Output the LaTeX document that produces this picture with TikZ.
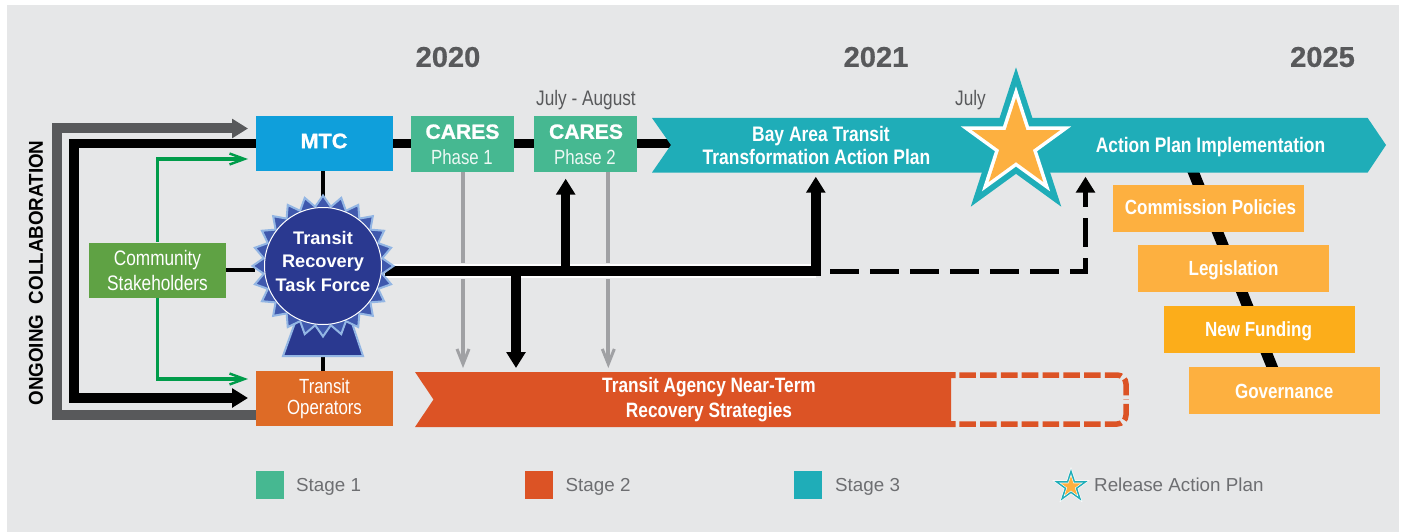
\documentclass[tikz,border=0pt]{standalone}
\usepackage{fontspec}
\usetikzlibrary{arrows.meta,shapes.geometric}
\setmainfont{Liberation Sans}
\newfontfamily\condreg[FakeStretch=0.82]{Liberation Sans}
\newfontfamily\condbold[UprightFont=* Bold,FakeStretch=0.83]{Liberation Sans}
\newfontfamily\plainbold[UprightFont=* Bold]{Liberation Sans}
\newfontfamily\yearbold[UprightFont=* Bold,FakeStretch=1.02,FakeBold=0.6]{Liberation Sans}
\newfontfamily\widebold[UprightFont=* Bold,FakeStretch=1.03,FakeBold=1.2]{Liberation Sans}
\newfontfamily\sidebold[UprightFont=* Bold,FakeStretch=0.94]{Liberation Sans}
\definecolor{bgc}{HTML}{E6E7E8}
\definecolor{yearc}{HTML}{58595B}
\definecolor{legc}{HTML}{6D6E71}
\definecolor{mtcc}{HTML}{0F9FDB}
\definecolor{caresc}{HTML}{46B891}
\definecolor{tealc}{HTML}{1FADB8}
\definecolor{commc}{HTML}{5FA244}
\definecolor{navyc}{HTML}{2A3990}
\definecolor{midblue}{HTML}{3F58AD}
\definecolor{liteblue}{HTML}{93B6E4}
\definecolor{opsc}{HTML}{DE6B26}
\definecolor{redc}{HTML}{DC5325}
\definecolor{starc}{HTML}{FDB040}
\definecolor{fundc}{HTML}{FCAD1A}
\definecolor{greenc}{HTML}{009C4A}
\definecolor{greyc}{HTML}{A0A1A4}
\definecolor{darkg}{HTML}{58595B}
\tikzset{
 box/.style={rectangle,inner sep=0pt,minimum width=#1},
 mainbox/.style={box=137pt,minimum height=55pt,text=white,align=center},
 caresbox/.style={box=103pt,minimum height=56pt,fill=caresc,text=white,align=center},
 goalbox/.style={box=191pt,minimum height=47pt,fill=starc,text=white},
 legbox/.style={box=28pt,minimum height=28pt},
 legtext/.style={text=legc,anchor=west,inner sep=0pt,font=\fontsize{18.8}{21}\selectfont},
 yeartext/.style={text=yearc,inner sep=0pt,font=\yearbold\fontsize{28.5}{30}\selectfont},
 datetext/.style={text=yearc,inner sep=0pt,font=\condreg\fontsize{21}{22}\selectfont},
 bandtext/.style={text=white,inner sep=0pt,align=center,font=\condbold\fontsize{21}{23.5}\selectfont},
 goaltext/.style={text=white,inner sep=0pt,font=\condbold\fontsize{20.5}{23}\selectfont},
 heavy/.style={line width=9.5pt,black},
 thick stem/.style={line width=9.5pt,-{Triangle[length=16pt,width=18.6pt]}},
 thin link/.style={line width=4pt,black},
 greenlink/.style={line width=3.2pt,greenc,-{Straight Barb[length=15pt,width=11pt,line width=2.4pt]}},
 greylink/.style={line width=4pt,greyc,-{Straight Barb[length=15pt,width=12pt,line width=3pt]}},
 starshape/.style={star,star points=5,star point ratio=2.618,inner sep=0pt,minimum size=#1},
 redash/.style={redc,line width=5.5pt,dash pattern=on 16.6pt off 4.2pt,rounded corners=9pt},
}
\begin{document}
\begin{tikzpicture}[x=1pt,y=-1pt]
\useasboundingbox (0,0) rectangle (1403,532);
\fill[bgc] (7,5) rectangle (1399,532);

% named ends
\coordinate (grayTip) at (248,128.5);
\coordinate (blackTip) at (248,398);
\coordinate (greenTop) at (248,159);
\coordinate (greenBot) at (248,379);
\coordinate (grayCorner) at (57,128.5);
\coordinate (blackCorner) at (74,143.5);
\coordinate (chevIn) at (680,143.5);
\coordinate (tfEnd) at (816,271);
\coordinate (dashStart) at (830,271);
\coordinate (dashCorner) at (1085.5,271);
\coordinate (dashTip) at (1085.5,176.7);

\node[mainbox,minimum height=55pt] (mtc) at (324.5,143.5) {};
\node[mainbox] (ops) at (324.5,398.5) {};
\node[mainbox] (comm) at (157.5,269.5) {};
\node[caresbox,draw=none] (c1) at (462.5,144) {};
\node[caresbox,draw=none] (c2) at (585.5,144) {};

% long arrows
\draw[line width=10pt,darkg,-{Triangle[length=16pt,width=18.6pt]}]
  (ops.west |- 0,415) -- (57,415) -- (grayCorner) -- (grayTip);
\draw[line width=9.5pt,black,-{Triangle[length=16pt,width=18.6pt]}]
  (mtc.west) -- (blackCorner) -- (74,398) -- (blackTip);
\draw[greenlink] (comm.north) |- (greenTop);
\draw[greenlink] (comm.south) |- (greenBot);
\draw[heavy] (mtc.east) -- (chevIn);

% grey arrows behind the task force bar
\draw[greylink] (c1.south -| 463,0) -- (463,368);
\draw[greylink] (c2.south -| 608.3,0) -- (608.3,368);

% diagonal behind goals
\coordinate (diagTop) at (1192.5,170);
\coordinate (diagBot) at (1273,369);
\draw[line width=11pt,black] (diagTop) -- (diagBot);

% bands
\fill[tealc] (652,118) -- (1367.7,118) -- (1386,145) -- (1367.7,172.5) -- (652,172.5) -- (671,145) -- cycle;
\fill[redc] (415,372) -- (955.5,372) -- (955.5,378) -- (951,378) -- (951,421) -- (955.5,421) -- (955.5,427) -- (415,427) -- (433.5,399.5) -- cycle;
\draw[redash] (959.3,375) -- (1126,375) -- (1126,399.5);
\draw[redash] (959.3,424) -- (1126,424) -- (1126,399.5);

% task force bar
\draw[bgc,line width=16pt] (385,271) -- (tfEnd);
\draw[white,line width=13.5pt] (385,271) -- (tfEnd);
\draw[heavy] (385,271) -- (820.5,271);
\draw[thick stem] (565.7,271) -- (565.7,178.7);
\draw[thick stem] (815.8,275.7) -- (815.8,176.7);
\draw[thick stem] (516,271) -- (516,368);
\draw[black,line width=5pt,dash pattern=on 29pt off 11pt,-{Triangle[length=16pt,width=18.6pt]}]
  (dashStart) -- (dashCorner) -- (dashTip);

% badge
\coordinate (badgeC) at (323,266);
\draw[thin link] (mtc.south -| badgeC) -- (323,200);
\draw[thin link] (ops.north -| badgeC) -- (323,350);
\draw[thin link] (comm.east) -- (255,269.5);
\fill[navyc,draw=liteblue,line width=2pt,line join=miter] (296,320) -- (351,320) -- (363,356) -- (283,356) -- cycle;
\node[star,star points=24,star point ratio=1.18,inner sep=0pt,minimum size=141pt,fill=midblue,draw=liteblue,line width=2pt] (burst) at (badgeC) {};
\node[circle,inner sep=0pt,minimum size=117pt,fill=navyc,draw=white,line width=1pt] (tfdisc) at (badgeC) {};
\node[inner sep=0pt,text=white,align=center,font=\plainbold\fontsize{18.2}{23.5}\selectfont] (tf) at (323,261) {Transit\\Recovery\\Task Force};

% star
\node[starshape=154pt,fill=tealc] (starA) at (1016,144.4) {};
\node[starshape=116pt,fill=white] (starB) at (1016,144.4) {};
\node[starshape=92.8pt,fill=starc] (starC) at (1016,144.4) {};

% boxes on top
\node[mainbox,fill=mtcc] (mtcbox) at (mtc.center) {};
\node[inner sep=0pt,text=white,font=\widebold\fontsize{21}{23}\selectfont] (mtct) at (324,141) {MTC};
\node[mainbox,fill=opsc,font=\condreg\fontsize{20.5}{21}\selectfont] (opsbox) at (ops.center) {Transit\\Operators};
\node[mainbox,fill=commc,font=\condreg\fontsize{21}{25}\selectfont] (commbox) at (157.5,270.5) {Community\\Stakeholders};
\node[caresbox] (c1t) at (c1.center) {};
\node[caresbox] (c2t) at (c2.center) {};
\node[text=white,inner sep=0pt,font=\widebold\fontsize{20.5}{22}\selectfont] (c1a) at (462.5,131.7) {CARES};
\node[text=white!90!caresc,inner sep=0pt,font=\condreg\fontsize{20.5}{22}\selectfont] (c1b) at (462,156.7) {Phase 1};
\node[text=white,inner sep=0pt,font=\widebold\fontsize{20.5}{22}\selectfont] (c2a) at (586,131.7) {CARES};
\node[text=white!90!caresc,inner sep=0pt,font=\condreg\fontsize{20.5}{22}\selectfont] (c2b) at (585,156.7) {Phase 2};

\node[goalbox] (g1) at (1208.5,208.5) {};
\node[goalbox] (g2) at (1233.5,268.5) {};
\node[goalbox,fill=fundc] (g3) at (1259.5,329.5) {};
\node[goalbox] (g4) at (1284.5,390.5) {};
\node[goaltext] (g1t) at (1210.5,207) {Commission Policies};
\node[goaltext] (g2t) at (1233.5,270.5) {Legislation};
\node[goaltext] (g3t) at (1258.5,331.5) {New Funding};
\node[goaltext] (g4t) at (1284.2,391) {Governance};

\node[bandtext] (bat) at (816.5,145.5) {\hspace*{9pt}Bay Area Transit\\Transformation Action Plan};
\node[bandtext] (api) at (1210.5,147.5) {Action Plan Implementation};
\node[bandtext,font=\condbold\fontsize{20.8}{25}\selectfont] (tar) at (709,399.5) {Transit Agency Near-Term\\Recovery Strategies};

% years and dates
\node[yeartext] (y20) at (448,57) {2020};
\node[yeartext] (y21) at (876,57) {2021};
\node[yeartext] (y25) at (1322.5,57) {2025};
\node[datetext] (d1) at (586,100) {July - August};
\node[datetext] (d2) at (970.5,100) {July};
\node[rotate=90,inner sep=0pt,text=black,font=\sidebold\fontsize{20}{22}\selectfont] (side) at (36,273) {ONGOING\ \ COLLABORATION};

% legend
\node[legbox,fill=caresc] (l1) at (270,485) {};
\node[legtext] (l1t) at (296,486.5) {Stage 1};
\node[legbox,fill=redc] (l2) at (539,485) {};
\node[legtext] (l2t) at (565.5,486.5) {Stage 2};
\node[legbox,fill=tealc] (l3) at (808,485) {};
\node[legtext] (l3t) at (835,486.5) {Stage 3};
\node[starshape=39pt,fill=white] (ls1) at (1071,486.5) {};
\node[starshape=35pt,fill=tealc] (ls2) at (1071,486.5) {};
\node[starshape=25pt,fill=white] (ls3) at (1071,486.5) {};
\node[starshape=21pt,fill=starc] (ls4) at (1071,486.5) {};
\node[legtext] (l4t) at (1094,485) {Release Action Plan};
\end{tikzpicture}
\end{document}
